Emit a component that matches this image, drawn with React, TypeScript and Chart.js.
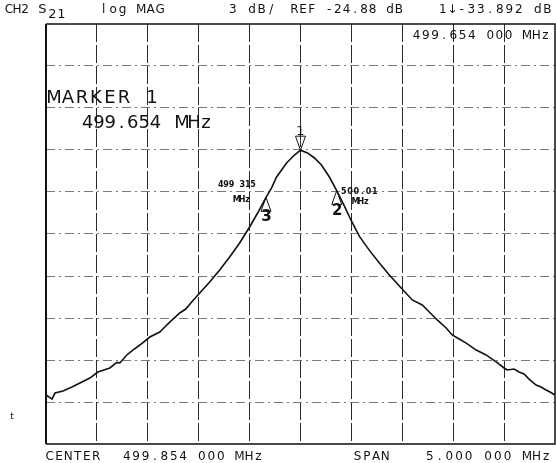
import React, { useEffect, useRef } from "react";
import { Chart, registerables } from "chart.js";

Chart.register(...registerables);

// Instrument settings (from the plot annotations)
const CENTER_MHZ = 499.654;
const SPAN_MHZ = 5;
const REF_DB = -24.88;
const DB_PER_DIV = 3;
const DIVISIONS = 10;

const freqMHz = [
  497.154, 497.213, 497.242, 497.321, 497.409, 497.487, 497.585, 497.664, 497.781, 497.85,
  497.879, 497.948, 498.007, 498.076, 498.174, 498.272, 498.321, 498.37, 498.468, 498.527,
  498.585, 498.664, 498.762, 498.86, 498.958, 499.056, 499.154, 499.233, 499.311, 499.37,
  499.419, 499.517, 499.595, 499.654, 499.723, 499.791, 499.86, 499.938, 500.007, 500.076,
  500.154, 500.233, 500.331, 500.429, 500.527, 500.625, 500.752, 500.85, 500.919, 500.997,
  501.085, 501.144, 501.213, 501.282, 501.38, 501.477, 501.576, 501.654, 501.684, 501.752,
  501.801, 501.85, 501.899, 501.968, 502.017, 502.066, 502.105, 502.154,
];
const s21dB = [
  -51.38, -51.67, -51.24, -51.09, -50.81, -50.52, -50.17, -49.74, -49.45, -49.05,
  -49.09, -48.52, -48.17, -47.81, -47.24, -46.88, -46.52, -46.17, -45.52, -45.24,
  -44.74, -44.09, -43.31, -42.45, -41.52, -40.52, -39.38, -38.38, -37.31, -36.59,
  -35.81, -34.81, -34.24, -33.892, -34.09, -34.45, -34.95, -35.81, -36.74, -37.75,
  -38.95, -40.05, -41.05, -41.95, -42.81, -43.59, -44.59, -44.95, -45.45, -46.02,
  -46.59, -47.09, -47.38, -47.67, -48.17, -48.52, -49.02, -49.45, -49.59, -49.52,
  -49.74, -49.88, -50.24, -50.67, -50.81, -51.02, -51.17, -51.38,
];

// Markers
const markerIds = ["1", "2", "3"];
const markerFreqs = [499.654, 500.01, 499.315];
const markerLabels = ["", "500.01", "499 315"];

// Annotation texts
const headerCh = "CH2";
const headerParam = "S";
const headerSub = "21";
const headerFormat = "log MAG";
const headerScale = "3 dB/";
const headerRef = "REF -24.88 dB";
const headerMarker = "1\u2193-33.892 dB";
const markerFreqBox = "499.654 000 MHz";
const markerTitle = "MARKER";
const markerTitleId = "1";
const markerBig = "499.654";
const unitMHz = "MHz";
const centerLabel = "CENTER";
const centerValue = "499.854 000 MHz";
const spanLabel = "SPAN";
const spanValue = "5.000 000 MHz";

const xMin = CENTER_MHZ - SPAN_MHZ / 2;
const xMax = CENTER_MHZ + SPAN_MHZ / 2;
const yMax = REF_DB;
const yMin = REF_DB - DB_PER_DIV * DIVISIONS;
const xGrid = Array.from({ length: DIVISIONS + 1 }, (_, i) => xMin + (i * SPAN_MHZ) / DIVISIONS);
const yGrid = Array.from({ length: DIVISIONS + 1 }, (_, i) => yMin + i * DB_PER_DIV);

function interp(f: number): number {
  for (let i = 0; i < freqMHz.length - 1; i++) {
    if (f >= freqMHz[i] && f <= freqMHz[i + 1]) {
      const t = (f - freqMHz[i]) / (freqMHz[i + 1] - freqMHz[i]);
      return s21dB[i] + t * (s21dB[i + 1] - s21dB[i]);
    }
  }
  return s21dB[s21dB.length - 1];
}

const FONT = "'DejaVu Sans', sans-serif";

function pitched(ctx: CanvasRenderingContext2D, text: string, x: number, y: number, pitch: number, size: number, weight = "normal") {
  ctx.font = `${weight} ${size}px ${FONT}`;
  ctx.textAlign = "center";
  ctx.textBaseline = "alphabetic";
  for (let i = 0; i < text.length; i++) {
    const ch = text[i];
    if (ch !== " ") ctx.fillText(ch, x + i * pitch + pitch / 2, y);
  }
}

const overlay = {
  id: "overlay",
  afterDraw(chart: any) {
    const ctx: CanvasRenderingContext2D = chart.ctx;
    const { left, right, top, bottom } = chart.chartArea;
    const xs = chart.scales.x;
    const ys = chart.scales.y;
    ctx.save();
    // frame
    ctx.strokeStyle = "#111";
    ctx.setLineDash([]);
    ctx.lineWidth = 1.5;
    ctx.beginPath();
    ctx.moveTo(left, top);
    ctx.lineTo(right, top);
    ctx.lineTo(right, bottom);
    ctx.lineTo(left, bottom);
    ctx.stroke();
    ctx.lineWidth = 2;
    ctx.beginPath();
    ctx.moveTo(left, top);
    ctx.lineTo(left, bottom);
    ctx.stroke();

    ctx.fillStyle = "#111";
    // header
    pitched(ctx, headerCh, 5, 13, 8, 12);
    pitched(ctx, headerParam, 38, 13, 9, 13);
    pitched(ctx, headerSub, 48, 18, 9, 13);
    pitched(ctx, headerFormat, 99, 13, 9.4, 12);
    pitched(ctx, headerScale, 228, 13, 9.6, 12);
    pitched(ctx, headerRef, 290, 13, 8.7, 12);
    pitched(ctx, headerMarker, 438, 13, 9.5, 12);
    pitched(ctx, markerFreqBox, 412, 39, 9.2, 12);
    // marker readout
    pitched(ctx, markerTitle, 47, 103, 14, 18);
    pitched(ctx, markerTitleId, 146, 103, 12, 18);
    pitched(ctx, markerBig, 82, 128, 11.3, 18);
    pitched(ctx, unitMHz, 176, 128, 12, 18);
    // footer
    pitched(ctx, centerLabel, 45, 460, 9.3, 12);
    pitched(ctx, centerValue, 122, 460, 9.4, 12);
    pitched(ctx, spanLabel, 353, 460, 9.2, 12);
    pitched(ctx, spanValue, 425, 460, 9.7, 12);
    pitched(ctx, "t", 8, 419, 8, 9);

    // markers
    ctx.strokeStyle = "#111";
    ctx.lineWidth = 1;
    markerFreqs.forEach((f, i) => {
      const px = xs.getPixelForValue(f);
      const py = ys.getPixelForValue(interp(f));
      ctx.beginPath();
      if (i === 0) {
        ctx.moveTo(px, py);
        ctx.lineTo(px - 5, py - 14);
        ctx.lineTo(px + 5, py - 14);
        ctx.closePath();
        ctx.stroke();
        pitched(ctx, markerIds[i], px - 4, py - 15, 8, 13);
      } else {
        ctx.moveTo(px, py);
        ctx.lineTo(px - 5, py + 14);
        ctx.lineTo(px + 5, py + 14);
        ctx.closePath();
        ctx.stroke();
        pitched(ctx, markerIds[i], px - 4, py + 24, 9, 15, "bold");
        if (i === 2) {
          pitched(ctx, markerLabels[i], px - 48, py - 10, 5.4, 8, "bold");
          pitched(ctx, unitMHz, px - 32, py + 5, 5.4, 8, "bold");
        } else {
          pitched(ctx, markerLabels[i], px + 4, py + 3, 6.2, 8, "bold");
          pitched(ctx, unitMHz, px + 16, py + 13, 5.4, 8, "bold");
        }
      }
    });
    ctx.restore();
  },
};

export default function App() {
  const ref = useRef<HTMLCanvasElement | null>(null);
  useEffect(() => {
    if (!ref.current) return;
    const data = freqMHz.map((f, i) => ({ x: f, y: s21dB[i] }));
    const chart = new Chart(ref.current, {
      type: "line",
      data: {
        datasets: [
          {
            data,
            borderColor: "#111",
            borderWidth: 1.6,
            pointRadius: 0,
            tension: 0,
            fill: false,
          },
        ],
      },
      options: {
        animation: false,
        responsive: false,
        devicePixelRatio: 1,
        layout: { padding: { left: 46, top: 24, right: 1, bottom: 19 } },
        plugins: { legend: { display: false }, tooltip: { enabled: false } },
        scales: {
          x: {
            type: "linear",
            min: xMin,
            max: xMax,
            afterBuildTicks: (s: any) => {
              s.ticks = xGrid.map((v) => ({ value: v }));
            },
            afterFit: (s: any) => {
              s.height = 0;
            },
            ticks: { display: false },
            grid: {
              drawTicks: false,
              color: (c: any) => (c.index === 0 || c.index === DIVISIONS ? "rgba(0,0,0,0)" : "#2a2a2a"),
              lineWidth: 1,
              borderDash: [18, 3],
            } as any,
            border: { display: false, dash: [18, 3] },
          },
          y: {
            type: "linear",
            min: yMin,
            max: yMax,
            afterBuildTicks: (s: any) => {
              s.ticks = yGrid.map((v) => ({ value: v }));
            },
            afterFit: (s: any) => {
              s.width = 0;
            },
            ticks: { display: false },
            grid: {
              drawTicks: false,
              color: (c: any) => (c.index === 0 || c.index === DIVISIONS ? "rgba(0,0,0,0)" : "#7a7a7a"),
              lineWidth: 1,
              borderDash: [9, 4, 2, 4],
            } as any,
            border: { display: false, dash: [9, 4, 2, 4] },
          },
        },
      },
      plugins: [overlay],
    });
    return () => chart.destroy();
  }, []);
  return (
    <div style={{ position: "fixed", left: 0, top: 0, width: 556, height: 463, background: "#fff" }}>
      <canvas ref={ref} width={556} height={463} style={{ display: "block" }} />
    </div>
  );
}
